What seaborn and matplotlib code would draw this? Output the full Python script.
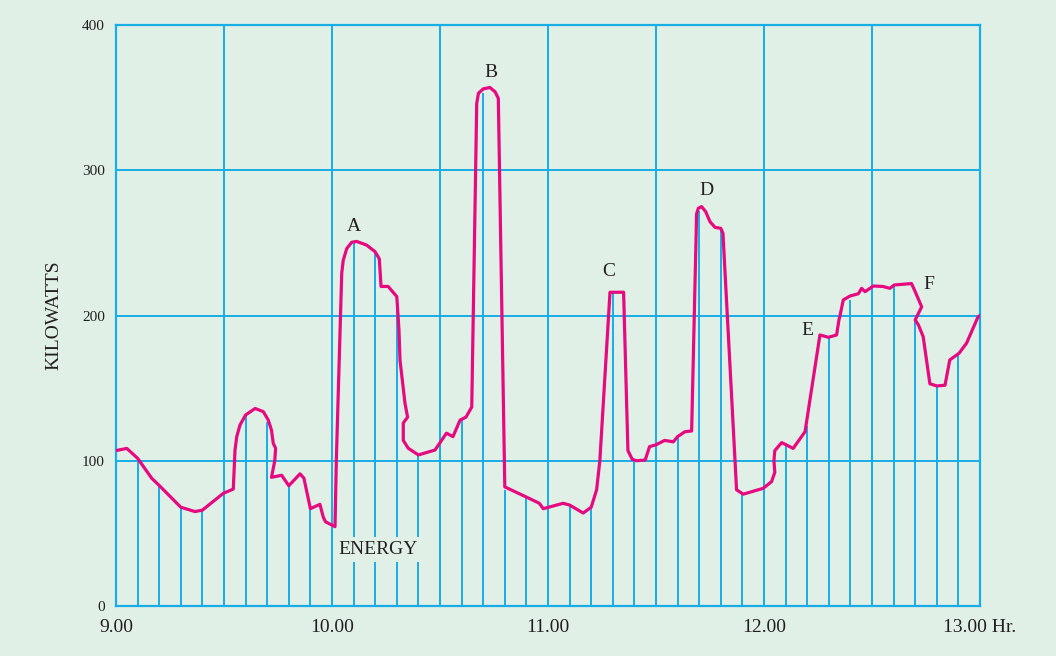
import numpy as np
import pandas as pd
import matplotlib
matplotlib.use("Agg")
import matplotlib.pyplot as plt
import seaborn as sns

# ---- data ----
curve_hr = [9.00, 9.05, 9.10, 9.165, 9.20, 9.30, 9.366, 9.40, 9.497, 9.543, 9.551, 9.559, 9.574, 9.60,
            9.644, 9.682, 9.705, 9.72, 9.728, 9.739, 9.735, 9.72, 9.767, 9.80, 9.852, 9.87, 9.90, 9.944,
            9.96, 9.97, 10.014, 10.02, 10.045, 10.052, 10.068, 10.091, 10.114, 10.16, 10.199, 10.219,
            10.227, 10.26, 10.30, 10.31, 10.315, 10.338, 10.35, 10.33, 10.33, 10.353, 10.40, 10.477,
            10.53, 10.56, 10.593, 10.62, 10.647, 10.670, 10.678, 10.70, 10.731, 10.755, 10.770, 10.80,
            10.90, 10.96, 10.978, 11.07, 11.10, 11.163, 11.20, 11.225, 11.24, 11.287, 11.35, 11.37,
            11.39, 11.41, 11.45, 11.47, 11.50, 11.54, 11.58, 11.60, 11.634, 11.665, 11.688, 11.696,
            11.711, 11.73, 11.75, 11.773, 11.80, 11.81, 11.873, 11.904, 11.996, 12.035, 12.05, 12.046,
            12.05, 12.082, 12.135, 12.19, 12.259, 12.298, 12.336, 12.347, 12.352, 12.367, 12.398,
            12.437, 12.452, 12.468, 12.506, 12.55, 12.583, 12.603, 12.683, 12.70, 12.73, 12.70,
            12.715, 12.737, 12.768, 12.80, 12.838, 12.86, 12.903, 12.938, 12.99, 13.00]
curve_kw = [107, 108.5, 101.7, 88, 83, 68, 65, 66, 77.6, 80.5, 107.4, 116.6, 124.6, 131.5,
            136, 133.8, 128, 121, 112, 108.6, 100, 88.6, 90, 82.8, 91, 88, 67, 70,
            61, 58, 54.6, 100, 229, 238, 246, 250.4, 251, 248.5, 244, 239,
            220, 220, 213, 190, 169, 139.5, 130, 126, 114, 108.6, 104, 107.4,
            119, 116.6, 128, 130, 137, 346, 353, 356, 357, 354, 349.5, 82,
            75, 70.7, 67, 70.7, 69.5, 64, 68, 80, 100, 216, 216, 107,
            101, 100, 100.5, 109.7, 111, 114, 113, 116.6, 120, 120.5, 270, 273.8,
            275, 271.5, 264.6, 260.7, 260, 256.6, 80, 77, 81, 85.6, 92, 100,
            107, 112.5, 108.5, 120, 186.6, 185, 186.6, 197, 200, 210.7, 213.4,
            215, 218.7, 216.4, 220.3, 220, 218.7, 221, 222, 216.4, 206, 197,
            193.5, 185.4, 153, 151.5, 152, 169.4, 174, 181, 198.8, 200]

ordinate_hr = [9.1, 9.2, 9.3, 9.4, 9.5, 9.6, 9.7, 9.8, 9.9, 10.0, 10.1, 10.2, 10.3, 10.4, 10.5,
               10.6, 10.7, 10.8, 10.9, 11.0, 11.1, 11.2, 11.3, 11.4, 11.5, 11.6, 11.7, 11.8, 11.9,
               12.0, 12.1, 12.2, 12.3, 12.4, 12.5, 12.6, 12.7, 12.8, 12.9]
ordinate_kw = [102, 83, 68, 66, 78, 131, 127, 83, 67, 55, 251, 243, 213, 104, 112,
               128, 353, 80, 75, 70, 69, 68, 216, 100, 111, 116, 272, 260, 77,
               82, 112, 124, 185, 211, 220, 220, 196, 152, 174]

x_ticks = [9, 10, 11, 12, 13]
x_tick_labels = ["9.00", "10.00", "11.00", "12.00", "13.00 Hr."]
y_ticks = [0, 100, 200, 300, 400]
y_tick_labels = ["0", "100", "200", "300", "400"]

peak_labels = ["A", "B", "C", "D", "E", "F"]
peak_hr = [10.10, 10.735, 11.279, 11.735, 12.202, 12.764]
peak_kw = [261, 367, 230, 286, 190, 221]

# ---- style ----
BG = "#e1f0e6"
GRID = "#19ade6"
CURVE = "#e6097f"
TEXT = "#231f20"

sns.set_theme(style="white")
plt.rcParams["font.family"] = ["Liberation Serif", "DejaVu Serif"]

fig = plt.figure(figsize=(10.56, 6.56), dpi=100, facecolor=BG)
ax = fig.add_axes([116 / 1056, 1 - 606 / 656, (980 - 116) / 1056, (606 - 25) / 656])
ax.set_facecolor(BG)

# ordinates
ax.vlines(ordinate_hr, 0, ordinate_kw, colors=GRID, linewidth=1.4, zorder=1)

# curve
df = pd.DataFrame({"hr": curve_hr, "kw": curve_kw})
sns.lineplot(data=df, x="hr", y="kw", sort=False, estimator=None, color=CURVE,
             linewidth=2.3, ax=ax, zorder=4, solid_joinstyle="round", solid_capstyle="round")

ax.set_xlim(9, 13)
ax.set_ylim(0, 400)
ax.set_xticks(x_ticks)
ax.set_xticklabels(x_tick_labels, fontsize=14, color=TEXT)
ax.set_xticks(np.arange(9.5, 13, 1.0), minor=True)
ax.set_yticks(y_ticks)
ax.set_yticklabels(y_tick_labels, fontsize=11, color=TEXT)
ax.tick_params(axis="both", which="both", length=0)
ax.tick_params(axis="x", pad=9)
ax.tick_params(axis="y", pad=8)
ax.grid(True, which="both", axis="x", color=GRID, linewidth=1.4, zorder=2)
ax.grid(True, which="major", axis="y", color=GRID, linewidth=1.4, zorder=2)
ax.set_axisbelow(False)
for sp in ax.spines.values():
    sp.set_color(GRID)
    sp.set_linewidth(1.6)

ax.set_xlabel("")
ax.set_ylabel("KILOWATTS", fontsize=14, color=TEXT, labelpad=14)

for lab, hx, kx in zip(peak_labels, peak_hr, peak_kw):
    ax.text(hx, kx, lab, fontsize=14, color=TEXT, ha="center", va="center", zorder=5)

ax.text(10.215, 39, "ENERGY", fontsize=14, color=TEXT, ha="center", va="center", zorder=5,
        bbox=dict(facecolor=BG, edgecolor="none", pad=3))

fig.savefig("out.png", dpi=100, facecolor=BG)
